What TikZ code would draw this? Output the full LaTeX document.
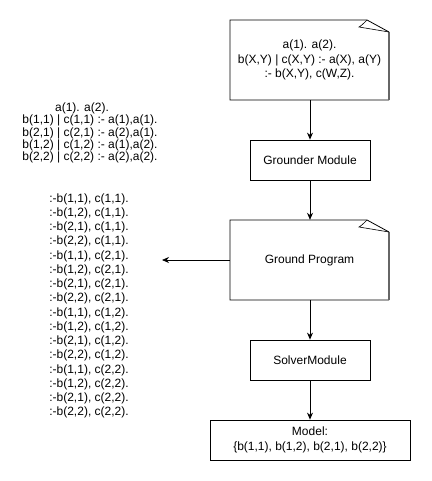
\documentclass[tikz,border=0pt]{standalone}
\usepackage{fontspec}
\setmainfont{Liberation Sans}
\usetikzlibrary{arrows.meta}
\newcommand\drawfoldnote[4]{%
  \fill[white] (#1,#2) -- (#3-22,#2) -- (#3,#2+12) -- (#3,#4) -- (#1,#4) -- cycle;
  \draw[outline] (#3,#2+12) -- (#3-22,#2) -- (#1,#2) -- (#1,#4) -- (#3,#4);
  \draw[black!60, line width=1.1pt] (#3,#2+12) -- (#3,#4);
  \draw[outline, line width=0.6pt] (#3-22,#2) .. controls (#3-25,#2+3) and (#3-28,#2+6) .. (#3-30,#2+7) -- (#3,#2+12);
}
\begin{document}
\begin{tikzpicture}[x=1pt,y=-1pt,
  font=\fontsize{12}{14.4}\selectfont,
  outline/.style={line width=0.8pt, line join=miter},
  box/.style={draw, line width=0.8pt, minimum width=120pt, minimum height=40pt, inner sep=0pt, align=center},
  notetext/.style={minimum width=159pt, minimum height=80pt, inner sep=0pt, align=center},
  arr/.style={line width=0.8pt, -{Stealth[length=7pt,width=6pt]}}]
\useasboundingbox (0,0) rectangle (431,481);

% notes
\drawfoldnote{230}{20}{389}{100}
\node[notetext] (prog) at (309.5,60) {a(1). a(2).\\b(X,Y) | c(X,Y) :- a(X), a(Y)\\:- b(X,Y), c(W,Z).};

\drawfoldnote{230}{220}{389}{300}
\node[notetext] (ground) at (309.5,260) {Ground Program};

% boxes
\node[box] (grounder) at (310,160) {Grounder Module};
\node[box] (solver) at (310,360) {SolverModule};
\node[box, minimum width=200pt] (model) at (310,440) {Model:\\\{b(1,1), b(1,2), b(2,1), b(2,2)\}};

% left texts
\node[align=center, inner sep=0pt, font=\fontsize{12}{12.1}\selectfont] (rules) at (90,133)
  {a(1). a(2).\hspace*{16pt}\\
   b(1,1) | c(1,1) :- a(1),a(1).\\
   b(2,1) | c(2,1) :- a(2),a(1).\\
   b(1,2) | c(1,2) :- a(1),a(2).\\
   b(2,2) | c(2,2) :- a(2),a(2).};
\node[align=center, inner sep=0pt, font=\fontsize{12}{14.25}\selectfont] (constraints) at (89,306)
  {:-b(1,1), c(1,1).\\
   :-b(1,2), c(1,1).\\
   :-b(2,1), c(1,1).\\
   :-b(2,2), c(1,1).\\
   :-b(1,1), c(2,1).\\
   :-b(1,2), c(2,1).\\
   :-b(2,1), c(2,1).\\
   :-b(2,2), c(2,1).\\
   :-b(1,1), c(1,2).\\
   :-b(1,2), c(1,2).\\
   :-b(2,1), c(1,2).\\
   :-b(2,2), c(1,2).\\
   :-b(1,1), c(2,2).\\
   :-b(1,2), c(2,2).\\
   :-b(2,1), c(2,2).\\
   :-b(2,2), c(2,2).};

\coordinate (leftend) at (162,260);

% connectors
\draw[arr] (prog.south -| grounder.north) -- (grounder.north);
\draw[arr] (grounder.south) -- (grounder.south |- ground.north);
\draw[arr] (ground.south -| solver.north) -- (solver.north);
\draw[arr] (solver.south) -- (model.north);
\draw[arr] (ground.west) -- (leftend);
\end{tikzpicture}
\end{document}
